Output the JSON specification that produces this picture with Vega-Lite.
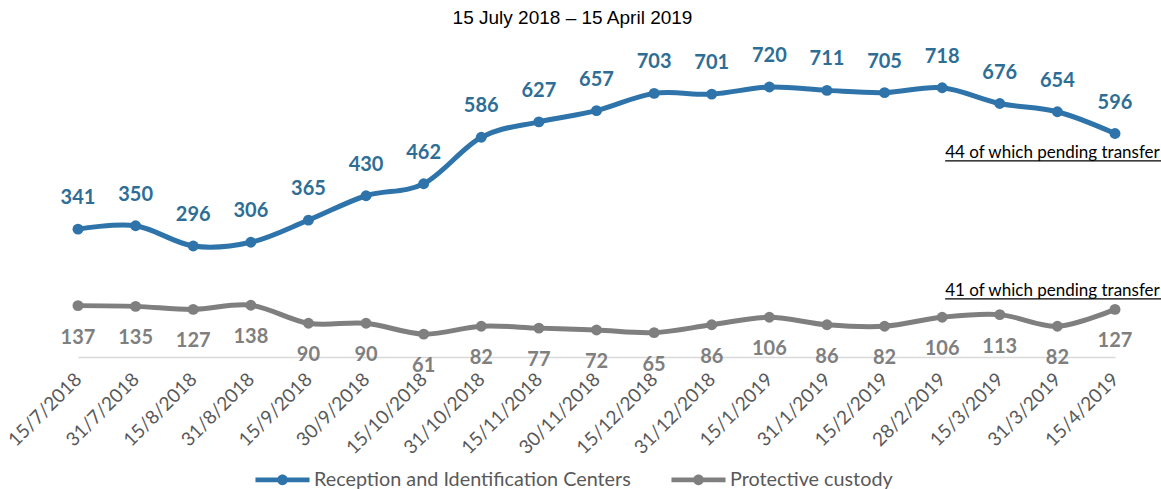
{
  "$schema": "https://vega.github.io/schema/vega-lite/v6.json",
  "width": 1037,
  "height": 300,
  "autosize": {"type": "none"},
  "padding": {"left": 78, "top": 57, "right": 46, "bottom": 132},
  "background": "white",
  "title": {
    "text": "15 July 2018 – 15 April 2019",
    "font": "Liberation Sans Narrow, Liberation Sans",
    "fontSize": 19,
    "fontWeight": "normal",
    "color": "#000000",
    "anchor": "middle",
    "dx": -24,
    "offset": 18
  },
  "config": {
    "view": {"stroke": null},
    "font": "Lato"
  },
  "datasets": {
    "series": [
      {"date": "15/7/2018", "series": "Reception and Identification Centers", "value": 341},
      {"date": "31/7/2018", "series": "Reception and Identification Centers", "value": 350},
      {"date": "15/8/2018", "series": "Reception and Identification Centers", "value": 296},
      {"date": "31/8/2018", "series": "Reception and Identification Centers", "value": 306},
      {"date": "15/9/2018", "series": "Reception and Identification Centers", "value": 365},
      {"date": "30/9/2018", "series": "Reception and Identification Centers", "value": 430},
      {"date": "15/10/2018", "series": "Reception and Identification Centers", "value": 462},
      {"date": "31/10/2018", "series": "Reception and Identification Centers", "value": 586},
      {"date": "15/11/2018", "series": "Reception and Identification Centers", "value": 627},
      {"date": "30/11/2018", "series": "Reception and Identification Centers", "value": 657},
      {"date": "15/12/2018", "series": "Reception and Identification Centers", "value": 703},
      {"date": "31/12/2018", "series": "Reception and Identification Centers", "value": 701},
      {"date": "15/1/2019", "series": "Reception and Identification Centers", "value": 720},
      {"date": "31/1/2019", "series": "Reception and Identification Centers", "value": 711},
      {"date": "15/2/2019", "series": "Reception and Identification Centers", "value": 705},
      {"date": "28/2/2019", "series": "Reception and Identification Centers", "value": 718},
      {"date": "15/3/2019", "series": "Reception and Identification Centers", "value": 676},
      {"date": "31/3/2019", "series": "Reception and Identification Centers", "value": 654},
      {"date": "15/4/2019", "series": "Reception and Identification Centers", "value": 596},
      {"date": "15/7/2018", "series": "Protective custody", "value": 137},
      {"date": "31/7/2018", "series": "Protective custody", "value": 135},
      {"date": "15/8/2018", "series": "Protective custody", "value": 127},
      {"date": "31/8/2018", "series": "Protective custody", "value": 138},
      {"date": "15/9/2018", "series": "Protective custody", "value": 90},
      {"date": "30/9/2018", "series": "Protective custody", "value": 90},
      {"date": "15/10/2018", "series": "Protective custody", "value": 61},
      {"date": "31/10/2018", "series": "Protective custody", "value": 82},
      {"date": "15/11/2018", "series": "Protective custody", "value": 77},
      {"date": "30/11/2018", "series": "Protective custody", "value": 72},
      {"date": "15/12/2018", "series": "Protective custody", "value": 65},
      {"date": "31/12/2018", "series": "Protective custody", "value": 86},
      {"date": "15/1/2019", "series": "Protective custody", "value": 106},
      {"date": "31/1/2019", "series": "Protective custody", "value": 86},
      {"date": "15/2/2019", "series": "Protective custody", "value": 82},
      {"date": "28/2/2019", "series": "Protective custody", "value": 106},
      {"date": "15/3/2019", "series": "Protective custody", "value": 113},
      {"date": "31/3/2019", "series": "Protective custody", "value": 82},
      {"date": "15/4/2019", "series": "Protective custody", "value": 127}
    ],
    "notes": [
      {"date": "28/2/2019", "end": "15/4/2019", "value": 544, "line": 523, "text": "44 of which pending transfer"},
      {"date": "28/2/2019", "end": "15/4/2019", "value": 176, "line": 155, "text": "41 of which pending transfer"}
    ]
  },
  "layer": [
    {
      "data": {"name": "series"},
      "mark": {"type": "line", "interpolate": "cardinal", "strokeWidth": 5, "strokeCap": "round"},
      "encoding": {
        "x": {
          "field": "date", "type": "ordinal", "sort": null,
          "scale": {"type": "point", "padding": 0},
          "axis": {
            "title": null, "labelAngle": -45, "labelAlign": "right", "labelBaseline": "middle",
            "labelFont": "Lato", "labelFontSize": 19, "labelColor": "#595959",
            "labelPadding": 19, "ticks": false, "grid": false,
            "domainColor": "#d9d9d9", "domainWidth": 1.5, "labelOverlap": false
          }
        },
        "y": {"field": "value", "type": "quantitative", "scale": {"domain": [0, 800]}, "axis": null},
        "color": {
          "field": "series", "type": "nominal",
          "scale": {"domain": ["Reception and Identification Centers", "Protective custody"], "range": ["#2e74aa", "#7f7f7f"]},
          "legend": {
            "title": null, "orient": "none", "direction": "horizontal",
            "legendX": 186, "legendY": 404,
            "symbolType": "M-1.5,-0.13H1.5V0.13H-1.5Z M-0.3,0A0.3,0.3 0 1,1 0.3,0A0.3,0.3 0 1,1 -0.3,0Z",
            "symbolSize": 1300, "symbolStrokeWidth": 0, "symbolOpacity": 1,
            "labelFont": "Lato", "labelFontSize": 19.8, "labelColor": "#595959",
            "labelOffset": 13, "columnPadding": 40, "labelLimit": 400,
            "encode": {"symbols": {"update": {"fill": {"scale": "color", "field": "value"}, "strokeWidth": {"value": 0}}}}
          }
        }
      }
    },
    {
      "data": {"name": "series"},
      "mark": {"type": "point", "filled": true, "size": 120, "opacity": 1},
      "encoding": {
        "x": {"field": "date", "type": "ordinal", "sort": null},
        "y": {"field": "value", "type": "quantitative"},
        "color": {"field": "series", "type": "nominal"}
      }
    },
    {
      "data": {"name": "series"},
      "transform": [{"filter": "datum.series === 'Reception and Identification Centers'"}],
      "mark": {"type": "text", "font": "Lato", "fontWeight": "bold", "fontSize": 20, "color": "#2e6e96", "dy": -31, "baseline": "middle"},
      "encoding": {
        "x": {"field": "date", "type": "ordinal", "sort": null},
        "y": {"field": "value", "type": "quantitative"},
        "text": {"field": "value", "type": "quantitative"}
      }
    },
    {
      "data": {"name": "series"},
      "transform": [{"filter": "datum.series === 'Protective custody'"}],
      "mark": {"type": "text", "font": "Lato", "fontWeight": "bold", "fontSize": 20, "color": "#7f7f7f", "dy": 32, "baseline": "middle"},
      "encoding": {
        "x": {"field": "date", "type": "ordinal", "sort": null},
        "y": {"field": "value", "type": "quantitative"},
        "text": {"field": "value", "type": "quantitative"}
      }
    },
    {
      "data": {"name": "notes"},
      "mark": {"type": "text", "font": "Lato", "fontSize": 17, "color": "#000000", "align": "left", "baseline": "middle", "dx": 3},
      "encoding": {
        "x": {"field": "date", "type": "ordinal", "sort": null},
        "y": {"field": "value", "type": "quantitative"},
        "text": {"field": "text", "type": "nominal"}
      }
    },
    {
      "data": {"name": "notes"},
      "mark": {"type": "rule", "color": "#000000", "strokeWidth": 1.2, "xOffset": 3, "x2Offset": 60},
      "encoding": {
        "x": {"field": "date", "type": "ordinal", "sort": null},
        "x2": {"field": "end"},
        "y": {"field": "line", "type": "quantitative"}
      }
    }
  ]
}
